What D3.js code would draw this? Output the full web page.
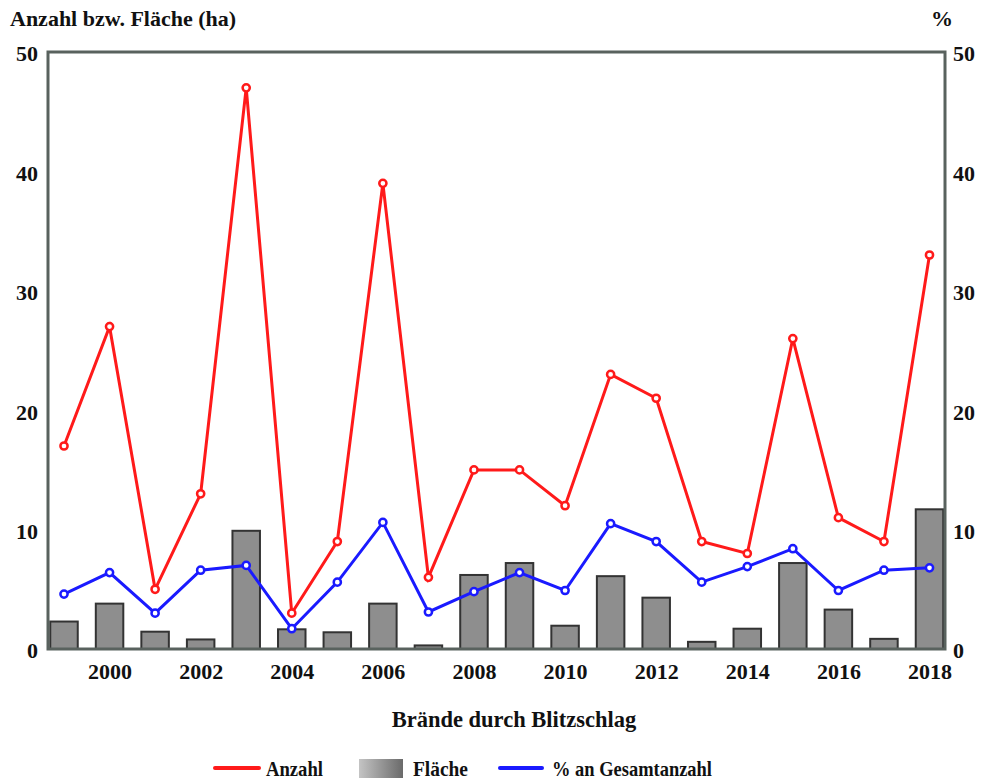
<!DOCTYPE html>
<html><head><meta charset="utf-8">
<script src="https://cdn.jsdelivr.net/npm/d3@7"></script>
<style>body{margin:0;background:#fff}svg{display:block}</style>
</head><body><svg id="c" width="984" height="780"></svg>
<script>
const years = [1999,2000,2001,2002,2003,2004,2005,2006,2007,2008,2009,2010,2011,2012,2013,2014,2015,2016,2017,2018];
const anzahl = [17,27,5,13,47,3,9,39,6,15,15,12,23,21,9,8,26,11,9,33];
const flaeche = [2.3,3.8,1.45,0.8,9.9,1.65,1.4,3.8,0.3,6.2,7.2,1.95,6.1,4.3,0.6,1.7,7.2,3.3,0.85,11.7];
const prozent = [4.6,6.4,3.0,6.6,7.0,1.7,5.6,10.6,3.1,4.8,6.4,4.9,10.5,9.0,5.6,6.9,8.4,4.9,6.6,6.8];
const yTicks = [0,10,20,30,40,50];
const xTickYears = [2000,2002,2004,2006,2008,2010,2012,2014,2016,2018];

const FONT = "'Liberation Serif', 'Times New Roman', serif";
const svg = d3.select("#c");
const L = 48, R = 945, T = 52, B = 649;
const x = d3.scalePoint().domain(years).range([64, 929.5]);
const y = d3.scaleLinear().domain([0,50]).range([B, T]);
const y2 = d3.scaleLinear().domain([0,50]).range([B, T]);
const bw = 27.5;

svg.append("g").selectAll("rect").data(years).join("rect")
  .attr("x", d => x(d) - bw/2).attr("width", bw)
  .attr("y", (d,i) => y(flaeche[i])).attr("height", (d,i) => B - y(flaeche[i]))
  .attr("fill", "#8e8e8e").attr("stroke", "#333").attr("stroke-width", 2);

svg.append("rect").attr("x", L).attr("y", T).attr("width", R-L).attr("height", B-T)
  .attr("fill", "none").attr("stroke", "#59625e").attr("stroke-width", 3);

const axL = svg.append("g").attr("transform", `translate(${L},0)`)
  .call(d3.axisLeft(y).tickValues(yTicks).tickSize(0).tickPadding(10).tickFormat(d3.format("d")));
const axR = svg.append("g").attr("transform", `translate(${R},0)`)
  .call(d3.axisRight(y2).tickValues(yTicks).tickSize(0).tickPadding(8).tickFormat(d3.format("d")));
const axB = svg.append("g").attr("transform", `translate(0,${B})`)
  .call(d3.axisBottom(x).tickValues(xTickYears).tickSize(0).tickPadding(14));
[axL, axR, axB].forEach(a => {
  a.attr("font-family", null).attr("font-size", null);
  a.select(".domain").remove();
  a.selectAll("text").attr("fill","#111").style("font-family", FONT).style("font-weight", "bold").style("font-size", "22px");
});
axL.selectAll("text").attr("dy", "0.4em");
axR.selectAll("text").attr("dy", "0.4em");

const lineA = d3.line().x((d,i) => x(years[i])).y(d => y(d));
const lineP = d3.line().x((d,i) => x(years[i])).y(d => y2(d));
svg.append("path").datum(anzahl).attr("d", lineA).attr("fill","none").attr("stroke","#ff1a1a").attr("stroke-width",3);
svg.append("path").datum(prozent).attr("d", lineP).attr("fill","none").attr("stroke","#1a1aff").attr("stroke-width",3);
svg.append("g").selectAll("circle").data(anzahl).join("circle")
  .attr("cx",(d,i)=>x(years[i])).attr("cy",d=>y(d)).attr("r",3.6)
  .attr("fill","#fff").attr("stroke","#ff1a1a").attr("stroke-width",2.5);
svg.append("g").selectAll("circle").data(prozent).join("circle")
  .attr("cx",(d,i)=>x(years[i])).attr("cy",d=>y2(d)).attr("r",3.6)
  .attr("fill","#fff").attr("stroke","#1a1aff").attr("stroke-width",2.5);

function txt(xp, yp, s, size, anchor, len) {
  const t = svg.append("text").attr("x", xp).attr("y", yp)
    .style("font-family", FONT).style("font-weight", "bold").style("font-size", size + "px")
    .attr("fill", "#111").attr("text-anchor", anchor || "start").text(s);
  if (len) t.attr("textLength", len).attr("lengthAdjust", "spacingAndGlyphs");
  return t;
}
txt(10, 26, "Anzahl bzw. Fläche (ha)", 22);
txt(931, 26, "%", 22);
txt(514, 727, "Brände durch Blitzschlag", 22.5, "middle");

const defs = svg.append("defs");
const gr = defs.append("linearGradient").attr("id","lg");
gr.append("stop").attr("offset","0%").attr("stop-color","#c4c4c4");
gr.append("stop").attr("offset","100%").attr("stop-color","#6a6a6a");
svg.append("line").attr("x1",215).attr("x2",259).attr("y1",768).attr("y2",768).attr("stroke","#ff1a1a").attr("stroke-width",4).attr("stroke-linecap","round");
txt(266, 776, "Anzahl", 22, "start", 57);
svg.append("rect").attr("x",359).attr("y",759).attr("width",44).attr("height",19).attr("fill","url(#lg)");
txt(413, 776, "Fläche", 22, "start", 55);
svg.append("line").attr("x1",500).attr("x2",542).attr("y1",768).attr("y2",768).attr("stroke","#1a1aff").attr("stroke-width",4).attr("stroke-linecap","round");
txt(552, 776, "% an Gesamtanzahl", 22, "start", 160);
</script></body></html>
